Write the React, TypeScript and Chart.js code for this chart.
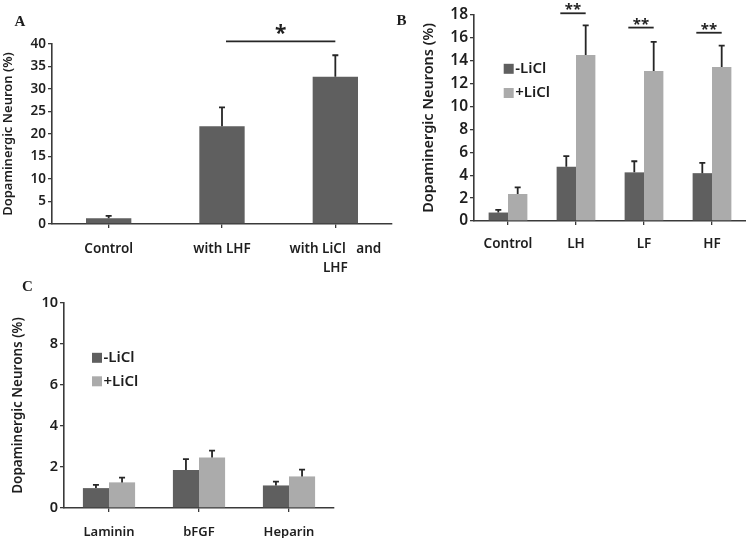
import { useEffect, useRef } from 'react';
import { Chart, registerables } from 'chart.js';

Chart.register(...registerables);

const FONT = '"Noto Sans", "Open Sans", sans-serif';
const AXIS = '#3a3a3a';
const TEXT = '#1e1e1e';
const DARK = '#5f5f5f';
const LIGHT = '#ababab';
const ERR = '#262626';
const WEIGHT = '600';

// ---------- Panel A ----------
const aCategories: (string | string[])[] = ['Control', 'with LHF', ['with LiCl   and', 'LHF']];
const aValues = [1.3, 21.7, 32.7];
const aErrors = [0.5, 4.2, 4.8];
const aSig = [{ from: 1, to: 2, y: 40.6, label: '*' }];

// ---------- Panel B ----------
const bCategories = ['Control', 'LH', 'LF', 'HF'];
const bSeriesLabels = ['-LiCl', '+LiCl'];
const bMinus = [0.74, 4.74, 4.25, 4.18];
const bMinusErr = [0.23, 0.93, 0.97, 0.9];
const bPlus = [2.36, 14.5, 13.1, 13.45];
const bPlusErr = [0.58, 2.6, 2.55, 1.88];
const bSig = [
  { cat: 1, y: 18.15, label: '**' },
  { cat: 2, y: 16.9, label: '**' },
  { cat: 3, y: 16.45, label: '**' },
];

// ---------- Panel C ----------
const cCategories = ['Laminin', 'bFGF', 'Heparin'];
const cSeriesLabels = ['-LiCl', '+LiCl'];
const cMinus = [0.97, 1.85, 1.1];
const cMinusErr = [0.16, 0.53, 0.19];
const cPlus = [1.25, 2.46, 1.54];
const cPlusErr = [0.23, 0.34, 0.33];

const errorBarsPlugin = {
  id: 'errorBars',
  afterDatasetsDraw(chart: any, _a: any, opts: any) {
    const { ctx } = chart;
    const ys = chart.scales.y;
    chart.data.datasets.forEach((ds: any, i: number) => {
      const meta = chart.getDatasetMeta(i);
      meta.data.forEach((el: any, j: number) => {
        const top = ys.getPixelForValue(ds.data[j] + ds.errors[j]);
        ctx.save();
        ctx.strokeStyle = opts.color;
        ctx.lineWidth = opts.width;
        ctx.beginPath();
        ctx.moveTo(el.x, el.y);
        ctx.lineTo(el.x, top);
        ctx.moveTo(el.x - opts.cap / 2, top);
        ctx.lineTo(el.x + opts.cap / 2, top);
        ctx.stroke();
        ctx.restore();
      });
    });
  },
};

const panelLetterPlugin = {
  id: 'panelLetter',
  afterDraw(chart: any, _a: any, opts: any) {
    const { ctx } = chart;
    ctx.save();
    ctx.fillStyle = TEXT;
    ctx.font = `bold ${opts.size}px "Liberation Serif", "DejaVu Serif", serif`;
    ctx.textAlign = 'center';
    ctx.textBaseline = 'middle';
    ctx.fillText(opts.text, opts.x, opts.y);
    ctx.restore();
  },
};

const boxLegendPlugin = {
  id: 'boxLegend',
  afterDraw(chart: any, _a: any, opts: any) {
    if (!opts || !opts.show) return;
    const { ctx } = chart;
    chart.data.datasets.forEach((ds: any, i: number) => {
      const cy = opts.y + i * opts.gap;
      ctx.save();
      ctx.fillStyle = ds.backgroundColor;
      ctx.fillRect(opts.x - opts.box / 2, cy - opts.box / 2, opts.box, opts.box);
      ctx.fillStyle = TEXT;
      ctx.font = `${WEIGHT} ${opts.fontSize}px ${FONT}`;
      ctx.textAlign = 'left';
      ctx.textBaseline = 'middle';
      ctx.fillText(ds.label, opts.x + opts.box / 2 + opts.textGap, cy);
      ctx.restore();
    });
  },
};

const sigPlugin = {
  id: 'sig',
  afterDraw(chart: any, _a: any, opts: any) {
    if (!opts || !opts.items) return;
    const { ctx } = chart;
    for (const item of opts.items) {
      let x1: number, x2: number;
      if (item.from !== undefined) {
        x1 = chart.scales.x.getPixelForValue(item.from) + opts.inset;
        x2 = chart.scales.x.getPixelForValue(item.to);
      } else {
        const m0 = chart.getDatasetMeta(0).data[item.cat];
        const m1 = chart.getDatasetMeta(1).data[item.cat];
        x1 = m0.x - opts.lead;
        x2 = m1.x;
      }
      const y = chart.scales.y.getPixelForValue(item.y);
      ctx.save();
      ctx.strokeStyle = ERR;
      ctx.lineWidth = opts.lineWidth;
      ctx.beginPath();
      ctx.moveTo(x1, y);
      ctx.lineTo(x2, y);
      ctx.stroke();
      ctx.fillStyle = TEXT;
      ctx.font = `bold ${opts.fontSize}px ${FONT}`;
      ctx.textAlign = 'center';
      ctx.textBaseline = 'alphabetic';
      ctx.fillText(item.label, (x1 + x2) / 2, y + opts.textDy);
      ctx.restore();
    }
  },
};

type PanelSpec = {
  categories: (string | string[])[];
  datasets: any[];
  yMax: number;
  yStep: number;
  yTitle: string;
  yTitleSize: number;
  tickSize: number;
  xLabelSize: number;
  xPad: number;
  yAxisWidth: number;
  xAxisHeight: number;
  padding: { left: number; top: number; right: number; bottom: number };
  catPct: number;
  letter: { text: string; x: number; y: number; size: number };
  legend?: any;
  sig?: any;
  xLineHeight?: number;
};

function buildConfig(p: PanelSpec): any {
  return {
    type: 'bar',
    data: {
      labels: p.categories,
      datasets: p.datasets.map((d) => ({
        ...d,
        categoryPercentage: p.catPct,
        barPercentage: 1,
        borderWidth: 0,
      })),
    },
    options: {
      animation: false,
      responsive: false,
      devicePixelRatio: 1,
      events: [],
      layout: { padding: p.padding },
      plugins: {
        legend: { display: false },
        tooltip: { enabled: false },
        errorBars: { color: ERR, width: 1.8, cap: 6 },
        panelLetter: p.letter,
        boxLegend: p.legend || { show: false },
        sig: p.sig || {},
      },
      scales: {
        x: {
          type: 'category',
          offset: true,
          grid: {
            offset: false,
            drawOnChartArea: false,
            drawTicks: true,
            tickLength: 4,
            color: AXIS,
            lineWidth: 1.3,
          },
          border: { display: true, color: AXIS, width: 1.6 },
          ticks: {
            color: TEXT,
            padding: p.xPad,
            maxRotation: 0,
            autoSkip: false,
            font: { family: FONT, size: p.xLabelSize, weight: WEIGHT, lineHeight: p.xLineHeight || 1.2 },
          },
          afterFit: (s: any) => {
            s.height = p.xAxisHeight;
          },
        },
        y: {
          min: 0,
          max: p.yMax,
          grid: {
            drawOnChartArea: false,
            drawTicks: true,
            tickLength: 4,
            color: AXIS,
            lineWidth: 1.3,
          },
          border: { display: true, color: AXIS, width: 1.6 },
          ticks: {
            stepSize: p.yStep,
            color: TEXT,
            padding: 2,
            font: { family: FONT, size: p.tickSize, weight: WEIGHT },
          },
          title: {
            display: true,
            text: p.yTitle,
            color: TEXT,
            padding: 0,
            font: { family: FONT, size: p.yTitleSize, weight: WEIGHT },
          },
          afterFit: (s: any) => {
            s.width = p.yAxisWidth;
          },
        },
      },
    },
    plugins: [errorBarsPlugin, panelLetterPlugin, boxLegendPlugin, sigPlugin],
  };
}

const panelA: PanelSpec = {
  categories: aCategories,
  datasets: [{ label: 'Dopaminergic Neuron', data: aValues, errors: aErrors, backgroundColor: DARK }],
  yMax: 40,
  yStep: 5,
  yTitle: 'Dopaminergic Neuron (%)',
  yTitleSize: 13,
  tickSize: 13.5,
  xLabelSize: 13.5,
  xPad: 11,
  xLineHeight: 1.45,
  yAxisWidth: 52,
  xAxisHeight: 56,
  padding: { left: 0, top: 44, right: 8, bottom: 0 },
  catPct: 0.4,
  letter: { text: 'A', x: 20, y: 22, size: 15 },
  sig: { items: aSig, inset: 4, lead: 0, lineWidth: 1.8, fontSize: 21, textDy: -1 },
};

const panelB: PanelSpec = {
  categories: bCategories,
  datasets: [
    { label: bSeriesLabels[0], data: bMinus, errors: bMinusErr, backgroundColor: DARK },
    { label: bSeriesLabels[1], data: bPlus, errors: bPlusErr, backgroundColor: LIGHT },
  ],
  yMax: 18,
  yStep: 2,
  yTitle: 'Dopaminergic Neurons (%)',
  yTitleSize: 14.5,
  tickSize: 15.5,
  xLabelSize: 13.5,
  xPad: 11,
  yAxisWidth: 54,
  xAxisHeight: 39,
  padding: { left: 40, top: 15, right: 0, bottom: 0 },
  catPct: 0.57,
  letter: { text: 'B', x: 21.5, y: 21.5, size: 15 },
  legend: { show: true, x: 128.7, y: 68.8, gap: 24.2, box: 10, textGap: 1.5, fontSize: 15 },
  sig: { items: bSig, inset: 0, lead: 6, lineWidth: 1.8, fontSize: 15, textDy: 1 },
};

const panelC: PanelSpec = {
  categories: cCategories,
  datasets: [
    { label: cSeriesLabels[0], data: cMinus, errors: cMinusErr, backgroundColor: DARK },
    { label: cSeriesLabels[1], data: cPlus, errors: cPlusErr, backgroundColor: LIGHT },
  ],
  yMax: 10,
  yStep: 2,
  yTitle: 'Dopaminergic Neurons (%)',
  yTitleSize: 13.5,
  tickSize: 14.5,
  xLabelSize: 13,
  xPad: 12,
  yAxisWidth: 54,
  xAxisHeight: 30,
  padding: { left: 10, top: 33, right: 66, bottom: 0 },
  catPct: 0.58,
  letter: { text: 'C', x: 27.5, y: 17.5, size: 15 },
  legend: { show: true, x: 97, y: 87.8, gap: 23.5, box: 10, textGap: 1.5, fontSize: 15 },
};

function Panel({ spec, left, top, width, height }: { spec: PanelSpec; left: number; top: number; width: number; height: number }) {
  const ref = useRef<HTMLCanvasElement>(null);
  useEffect(() => {
    if (!ref.current) return;
    const chart = new Chart(ref.current, buildConfig(spec));
    return () => chart.destroy();
  }, [spec]);
  return (
    <canvas
      ref={ref}
      width={width}
      height={height}
      style={{ position: 'absolute', left, top, width, height, display: 'block' }}
    />
  );
}

export default function App() {
  useEffect(() => {
    document.body.style.margin = '0';
    document.body.style.background = '#ffffff';
  }, []);
  return (
    <div style={{ position: 'absolute', left: 0, top: 0, width: 746, height: 538, background: '#ffffff', overflow: 'hidden' }}>
      <Panel spec={panelA} left={0} top={0} width={400} height={280} />
      <Panel spec={panelB} left={380} top={0} width={366} height={260} />
      <Panel spec={panelC} left={0} top={270} width={400} height={268} />
    </div>
  );
}
